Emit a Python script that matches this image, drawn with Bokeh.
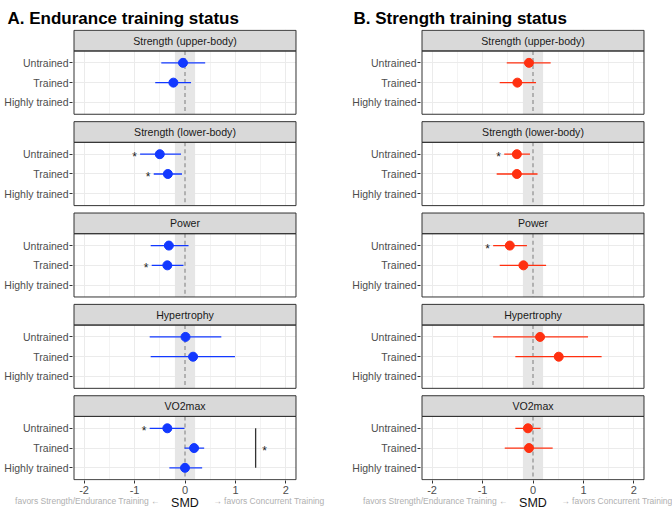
from bokeh.plotting import figure
from bokeh.models import Range1d, FixedTicker, ColumnDataSource
from bokeh.layouts import row, column
from bokeh.embed import file_html
from bokeh.resources import INLINE
from bokeh.core.properties import value

FONT = "Liberation Sans"

# ---------------- data ----------------
outcomes = ["Strength (upper-body)", "Strength (lower-body)", "Power", "Hypertrophy", "VO2max"]
status_levels = ["Untrained", "Trained", "Highly trained"]
x_ticks = [-2, -1, 0, 1, 2]
x_tick_labels = ["-2", "-1", "0", "1", "2"]
x_minor = [-1.5, -0.5, 0.5, 1.5]
equiv_lo, equiv_hi = -0.2, 0.2

# Panel A: endurance training status
a_outcome = [0, 0, 1, 1, 2, 2, 3, 3, 4, 4, 4]
a_status = [0, 1, 0, 1, 0, 1, 0, 1, 0, 1, 2]
a_smd = [-0.04, -0.23, -0.50, -0.34, -0.32, -0.35, 0.01, 0.16, -0.35, 0.18, 0.00]
a_lo = [-0.47, -0.59, -0.89, -0.62, -0.68, -0.66, -0.70, -0.68, -0.70, -0.01, -0.31]
a_hi = [0.40, 0.12, -0.08, -0.06, 0.07, -0.03, 0.72, 0.99, -0.01, 0.38, 0.34]
a_sig = [0, 0, 1, 1, 0, 1, 0, 0, 1, 0, 0]
# between-subgroup difference (VO2max, Untrained vs Highly trained)
a_bracket = dict(outcome=4, s_from=0, s_mid=1, s_to=2, x=1.40, star_x=1.58)

# Panel B: strength training status
b_outcome = [0, 0, 1, 1, 2, 2, 3, 3, 4, 4]
b_status = [0, 1, 0, 1, 0, 1, 0, 1, 0, 1]
b_smd = [-0.08, -0.31, -0.32, -0.32, -0.46, -0.19, 0.14, 0.51, -0.10, -0.08]
b_lo = [-0.52, -0.66, -0.57, -0.72, -0.79, -0.66, -0.79, -0.35, -0.35, -0.56]
b_hi = [0.35, 0.06, -0.06, 0.09, -0.12, 0.26, 1.09, 1.36, 0.15, 0.39]
b_sig = [0, 0, 1, 0, 1, 0, 0, 0, 0, 0]

axis_title = "SMD"
left_note = "favors Strength/Endurance Training \u2190"
right_note = "\u2192 favors Concurrent Training"
left_note_x, right_note_x = -0.5, 0.56

# ---------------- layout constants ----------------
STRIP, PANEL, GAP = 20.7, 63.3, 7.4
ROW = PANEL / 3.2
PITCH = STRIP + PANEL + GAP
TOTAL = 5 * (STRIP + PANEL) + 4 * GAP
XLIM = 2.2
PADX = 0.03
PADY = 0.8
STAR_GAP = 0.11
FIG_W, FIG_H, NOTE_H = 336, 496, 13
FRAME_W = 225


def ypos(o, s):
    return o * PITCH + STRIP + (s + 0.6) * ROW


def build(title, outc, stat, smd, lo, hi, sig, color, left, right, title_offset, bracket=None):
    p = figure(width=FIG_W, height=FIG_H, output_backend="svg", toolbar_location=None,
               x_range=Range1d(-XLIM - PADX, XLIM + PADX),
               y_range=Range1d(TOTAL + PADY, -PADY),
               min_border_left=left, min_border_right=right,
               min_border_top=29, min_border_bottom=0, title=title)
    p.title.align = "left"
    p.title.offset = title_offset
    p.title.text_font_size = "17px"
    p.title.text_font_style = "bold"
    p.title.text_font = FONT
    p.title.vertical_align = "top"
    p.title.standoff = 0
    p.title.text_color = "#000000"
    p.outline_line_color = None
    p.background_fill_color = "white"
    p.border_fill_color = "white"

    pairs = [(o, s) for o in range(5) for s in range(3)]
    yt = [ypos(o, s) for o, s in pairs]
    ylab = {t: status_levels[s] for t, (o, s) in zip(yt, pairs)}
    yticker = FixedTicker(ticks=yt)
    p.yaxis.ticker = yticker
    p.yaxis.major_label_overrides = ylab
    p.yaxis.major_label_text_font = FONT
    p.yaxis.major_label_text_font_size = "10.5px"
    p.yaxis.major_label_text_color = "#4d4d4d"
    p.yaxis.major_label_standoff = 1
    p.yaxis.major_tick_in = 0
    p.yaxis.major_tick_out = 3
    p.yaxis.major_tick_line_color = "#333333"
    p.yaxis.minor_tick_line_color = None
    p.yaxis.axis_line_color = None

    xticker = FixedTicker(ticks=x_ticks, minor_ticks=x_minor)
    p.xaxis.ticker = xticker
    p.xaxis.major_label_overrides = dict(zip(x_ticks, x_tick_labels))
    p.xaxis.major_label_text_font = FONT
    p.xaxis.major_label_text_font_size = "11px"
    p.xaxis.major_label_text_color = "#4d4d4d"
    p.xaxis.major_label_standoff = 1
    p.xaxis.major_tick_in = 0
    p.xaxis.major_tick_out = 3
    p.xaxis.major_tick_line_color = "#333333"
    p.xaxis.minor_tick_line_color = None
    p.xaxis.axis_line_color = None

    p.xgrid.ticker = xticker
    p.xgrid.grid_line_color = "#ebebeb"
    p.xgrid.grid_line_width = 1
    p.xgrid.minor_grid_line_color = "#ebebeb"
    p.xgrid.minor_grid_line_width = 0.6
    p.ygrid.ticker = yticker
    p.ygrid.grid_line_color = "#ebebeb"
    p.ygrid.grid_line_width = 1

    ftop = [o * PITCH for o in range(5)]
    ptop = [t + STRIP for t in ftop]
    pbot = [t + STRIP + PANEL for t in ftop]

    # white cover for gaps and margins (hide grid outside panels)
    gtop = [-PADY] + pbot
    gbot = ftop + [TOTAL + PADY]
    p.quad(left=-XLIM - 1, right=XLIM + 1, top=gtop, bottom=gbot, fill_color="white", line_color=None)
    p.quad(left=[-XLIM - 1, XLIM], right=[-XLIM, XLIM + 1], top=[-PADY, -PADY],
           bottom=[TOTAL + PADY, TOTAL + PADY], fill_color="white", line_color=None)

    # equivalence band and zero line
    p.quad(left=equiv_lo, right=equiv_hi, top=ptop, bottom=pbot, fill_color="#e6e6e6", line_color=None)
    p.segment(x0=[0] * 5, y0=ptop, x1=[0] * 5, y1=pbot, line_color="#9a9a9a", line_width=1.4,
              line_dash="4 3")

    # strips
    p.quad(left=-XLIM, right=XLIM, top=ftop, bottom=ptop, fill_color="#d9d9d9",
           line_color="#333333", line_width=1)
    p.text(x=[0] * 5, y=[t + STRIP / 2 for t in ftop], text=outcomes, text_font=value(FONT),
           text_font_size="10.6px", text_color="#1a1a1a", text_align="center", text_baseline="middle")

    # panel borders
    p.quad(left=-XLIM, right=XLIM, top=ptop, bottom=pbot, fill_color=None,
           line_color="#333333", line_width=1)

    ys = [ypos(o, s) for o, s in zip(outc, stat)]
    src = ColumnDataSource(dict(y=ys, smd=smd, lo=lo, hi=hi))
    p.segment(x0="lo", y0="y", x1="hi", y1="y", source=src, line_color=color, line_width=1.3)
    p.scatter(x="smd", y="y", source=src, size=9, fill_color=color, line_color=color)

    sx = [l - STAR_GAP for l, g in zip(lo, sig) if g]
    sy = [y for y, g in zip(ys, sig) if g]
    p.text(x=sx, y=sy, text=["*"] * len(sx), text_font=value(FONT), text_font_size="12px",
           text_color="#222222", text_align="center", text_baseline="middle", y_offset=3)

    if bracket is not None:
        o = bracket["outcome"]
        p.segment(x0=[bracket["x"]], y0=[ypos(o, bracket["s_from"])], x1=[bracket["x"]],
                  y1=[ypos(o, bracket["s_to"])], line_color="#333333", line_width=1.3)
        p.text(x=[bracket["star_x"]], y=[ypos(o, bracket["s_mid"])], text=["*"],
               text_font=value(FONT), text_font_size="12px", text_color="#222222",
               text_align="center", text_baseline="middle", y_offset=3)
    return p


def build_note(left, right):
    scale = FRAME_W / (2 * (XLIM + PADX))
    xr = Range1d(-(XLIM + PADX) - left / scale, (XLIM + PADX) + right / scale)
    n = figure(width=FIG_W, height=NOTE_H, output_backend="svg", toolbar_location=None,
               x_range=xr, y_range=Range1d(0, 1), x_axis_location=None, y_axis_location=None,
               min_border_left=0, min_border_right=0, min_border_top=0, min_border_bottom=0)
    n.outline_line_color = None
    n.xgrid.visible = False
    n.ygrid.visible = False
    n.text(x=[0], y=[0.5], text=[axis_title], text_font=value(FONT), text_font_size="12.5px",
           text_color="#111111", text_align="center", text_baseline="middle")
    n.text(x=[left_note_x], y=[0.5], text=[left_note], text_font=value(FONT), text_font_size="8.5px",
           text_color="#b0b0b0", text_align="right", text_baseline="middle", y_offset=-2)
    n.text(x=[right_note_x], y=[0.5], text=[right_note], text_font=value(FONT), text_font_size="8.5px",
           text_color="#b0b0b0", text_align="left", text_baseline="middle", y_offset=-2)
    return n


A_LEFT, A_RIGHT = 72, 39
B_LEFT, B_RIGHT = 84, 27
pa = build("A. Endurance training status", a_outcome, a_status, a_smd, a_lo, a_hi, a_sig,
           "#1238ff", A_LEFT, A_RIGHT, 7 - A_LEFT, bracket=a_bracket)
pb = build("B. Strength training status", b_outcome, b_status, b_smd, b_lo, b_hi, b_sig,
           "#ff3010", B_LEFT, B_RIGHT, 17 - B_LEFT)
na = build_note(A_LEFT, A_RIGHT)
nb = build_note(B_LEFT, B_RIGHT)

layout = column(row(pa, pb), row(na, nb))
open("out.html", "w").write(file_html(layout, INLINE))
